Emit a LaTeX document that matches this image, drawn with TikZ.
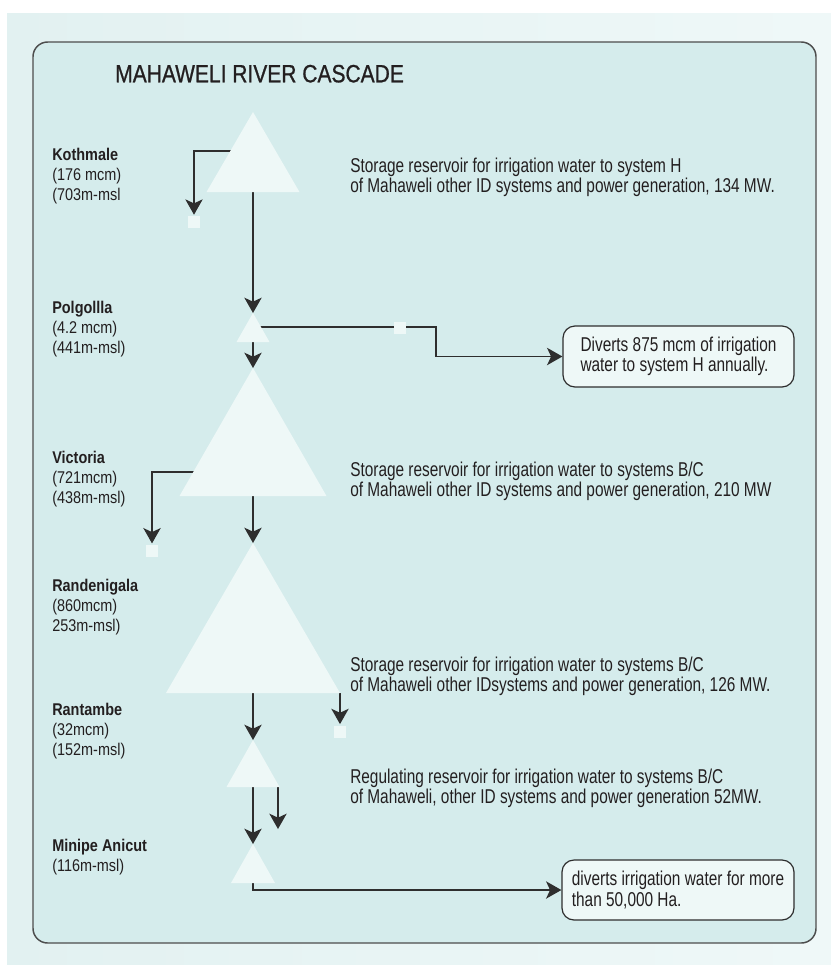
\documentclass[tikz,border=0pt]{standalone}
\usepackage{fontspec}
\usetikzlibrary{arrows.meta}

\newfontfamily\titlefont{Liberation Sans}[FakeStretch=0.84, FakeBold=0.8]
\newfontfamily\bodyfont{Liberation Sans}[FakeStretch=0.77]
\newfontfamily\labelfont{Liberation Sans}[FakeStretch=0.85]

\definecolor{inkc}{HTML}{231F20}
\definecolor{linec}{HTML}{2E2E2E}
\definecolor{panel}{HTML}{D5ECEC}
\definecolor{paleA}{HTML}{E2F1F1}
\definecolor{paleB}{HTML}{EFF8F8}
\definecolor{shapefill}{HTML}{EEF8F7}
\definecolor{framec}{HTML}{4D4D4D}

\tikzset{
  flow/.style={draw=linec, line width=1pt,
    -{Stealth[length=11.5pt, width=13pt, inset=3pt]}},
  outlet/.style={fill=shapefill, minimum size=9pt, inner sep=0pt},
  damname/.style={anchor=base west, align=left, inner sep=0pt, text=inkc,
    font=\labelfont\fontsize{12.75pt}{15pt}\selectfont},
  descr/.style={anchor=base west, align=left, inner sep=0pt, text=inkc,
    font=\bodyfont\fontsize{15pt}{15pt}\selectfont},
  notebox/.style={draw=linec, line width=0.9pt, fill=shapefill,
    rounded corners=9pt, align=left, text=inkc, inner sep=0pt,
    font=\bodyfont\fontsize{15pt}{15.2pt}\selectfont},
}

% reservoir symbol: apex x, apex y, half base, height
\newcommand\reservoir[4]{%
  \fill[shapefill] (#1,#2) -- ++(#3,#4) -- ++(-2*#3,0) -- cycle;
}
% key points of a reservoir: name, apex x, apex y, half base, height
\newcommand\damcoords[5]{%
  \coordinate (#1-top) at (#2,#3);
  \coordinate (#1-bot) at (#2,#3+#5);
  \coordinate (#1-right) at (#2+#4,#3+#5);
}

\begin{document}
\begin{tikzpicture}[x=0.75pt, y=-0.75pt]
\useasboundingbox (0,0) rectangle (831,965);
\fill[white] (0,0) rectangle (831,965);
\shade[left color=paleA, right color=paleB] (7,13) rectangle (831,965);
\draw[draw=framec, line width=1.1pt, fill=panel, rounded corners=11pt]
  (33,42) rectangle (816,943);

\node[anchor=base west, inner sep=0pt, text=inkc,
  font=\titlefont\fontsize{18.75pt}{20pt}\selectfont] (title) at (115,82.3)
  {MAHAWELI RIVER CASCADE};

\damcoords{kot}{253}{112}{46.5}{80}
\damcoords{pol}{253}{313}{16.5}{29}
\damcoords{vic}{253}{368}{73.5}{128}
\damcoords{ran}{253}{543}{87}{150}
\damcoords{rat}{253}{740}{26.5}{47}
\damcoords{min}{253}{844}{22}{39}

\coordinate (kottap) at (253,151);
\coordinate (poltap) at (253,327);
\coordinate (polbend) at (436,356.5);
\coordinate (victap) at (253,472);
\coordinate (rattap) at (278,787);
\coordinate (ratend) at (278,829);

% outlets
\node[outlet] (kotout) at (194,222.3) {};
\node[outlet] (polout) at (399.5,328) {};
\node[outlet] (vicout) at (152,551) {};
\node[outlet] (ranout) at (340,731.7) {};

% diversion notes
\node[notebox, minimum width=173.25pt, minimum height=45.75pt]
  (box1) at (678.5,356.5)
  {Diverts 875 mcm of irrigation\\water to system H annually.};
\node[notebox, minimum width=174pt, minimum height=45pt]
  (box2) at (678,890)
  {diverts irrigation water for more\\than 50,000 Ha.};

% flows along the river
\draw[flow] (kot-bot) -- (pol-top);
\draw[flow] (pol-bot) -- (vic-top);
\draw[flow] (vic-bot) -- (ran-top);
\draw[flow] (ran-bot) -- (rat-top);
\draw[flow] (rat-bot) -- (min-top);

% releases and diversions
\draw[flow, shorten >=1pt] (kottap) -| (kotout.north);
\draw[flow] (poltap) -| (polbend) -- (box1.west);
\draw[flow, shorten >=1pt] (victap) -| (vicout.north);
\draw[flow, shorten >=1pt] (ran-right) -- (ranout.north);
\draw[flow] (rattap) -- (ratend);
\draw[flow] (min-bot) |- (box2.west);

% reservoirs on top of the lines
\reservoir{253}{112}{46.5}{80}
\reservoir{253}{313}{16.5}{29}
\reservoir{253}{368}{73.5}{128}
\reservoir{253}{543}{87}{150}
\reservoir{253}{740}{26.5}{47}
\reservoir{253}{844}{22}{39}

% outlet squares drawn over the lines
\node[outlet] at (kotout) {};
\node[outlet] at (polout) {};
\node[outlet] at (vicout) {};
\node[outlet] at (ranout) {};

% dam names (anchored at the baseline of the last line)
\node[damname] (kotlab) at (52,200.7) {\textbf{Kothmale}\\(176 mcm)\\(703m-msl};
\node[damname] (pollab) at (52,353) {\textbf{Polgollla}\\(4.2 mcm)\\(441m-msl)};
\node[damname] (viclab) at (52,503) {\textbf{Victoria}\\(721mcm)\\(438m-msl)};
\node[damname] (ranlab) at (52,631.5) {\textbf{Randenigala}\\(860mcm)\\253m-msl)};
\node[damname] (ratlab) at (52,755) {\textbf{Rantambe}\\(32mcm)\\(152m-msl)};
\node[damname] (minlab) at (52,871.7) {\textbf{Minipe Anicut}\\(116m-msl)};

% descriptions
\node[descr] (kotdesc) at (350,192.3)
  {Storage reservoir for irrigation water to system H\\of Mahaweli other ID systems and power generation, 134 MW.};
\node[descr] (vicdesc) at (350,496.5)
  {Storage reservoir for irrigation water to systems B/C\\of Mahaweli other ID systems and power generation, 210 MW};
\node[descr] (randesc) at (350,691.7)
  {Storage reservoir for irrigation water to systems B/C\\of Mahaweli other IDsystems and power generation, 126 MW.};
\node[descr] (ratdesc) at (350,803)
  {Regulating reservoir for irrigation water to systems B/C\\of Mahaweli, other ID systems and power generation 52MW.};
\end{tikzpicture}
\end{document}
